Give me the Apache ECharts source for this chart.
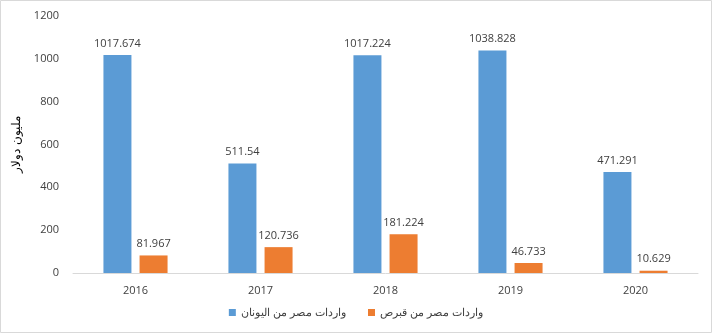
<!DOCTYPE html>
<html><head><meta charset="utf-8">
<script src="https://cdn.jsdelivr.net/npm/echarts@6/dist/echarts.min.js"></script>
<style>html,body{margin:0;padding:0;background:#fff}#c{width:712px;height:333px}</style>
</head><body><div id="c"></div>
<script>
const categories = ['2016','2017','2018','2019','2020'];
const greeceValues = [1017.674, 511.54, 1017.224, 1038.828, 471.291];
const cyprusValues = [81.967, 120.736, 181.224, 46.733, 10.629];
const seriesNames = ['واردات مصر من اليونان', 'واردات مصر من قبرص'];
const yAxisName = 'مليون دولار';

const chart = echarts.init(document.getElementById('c'), null, {renderer:'canvas'});
const numFont = '"Open Sans", "Noto Sans", sans-serif';
const lbl = {show:true, position:'top', distance:6, color:'#404040', fontSize:11, fontFamily:numFont, formatter: p => String(p.value)};
chart.setOption({
  animation:false,
  graphic:[{type:'rect', shape:{x:0.5,y:0.5,width:711,height:332}, style:{fill:'none', stroke:'#d9d9d9', lineWidth:1}}],
  grid:{left:73, right:14, top:16, bottom:60},
  legend:{bottom:10, left:'center', itemWidth:7, itemHeight:7, itemGap:22, icon:'rect',
    textStyle:{color:'#404040', fontSize:11, fontFamily:'"Liberation Sans", Arial, sans-serif'},
    data:seriesNames},
  xAxis:{type:'category', data:categories,
    axisLine:{lineStyle:{color:'#d9d9d9'}}, axisTick:{show:false},
    axisLabel:{color:'#404040', fontSize:11, margin:12, fontFamily:numFont}},
  yAxis:{type:'value', min:0, max:1200, interval:200,
    name:yAxisName, nameLocation:'middle', nameGap:40, nameRotate:90,
    nameTextStyle:{color:'#000', fontSize:12, fontFamily:'"Liberation Sans", Arial, sans-serif'},
    axisLine:{show:false}, axisTick:{show:false}, splitLine:{show:false},
    axisLabel:{color:'#404040', fontSize:11, margin:14, fontFamily:numFont, formatter: v => String(v)}},
  series:[
    {name:seriesNames[0], type:'bar', data:greeceValues, barWidth:28, barGap:'29%',
      itemStyle:{color:'#5B9BD5'}, label:lbl},
    {name:seriesNames[1], type:'bar', data:cyprusValues, barWidth:28,
      itemStyle:{color:'#ED7D31'}, label:lbl}
  ]
});
</script></body></html>
